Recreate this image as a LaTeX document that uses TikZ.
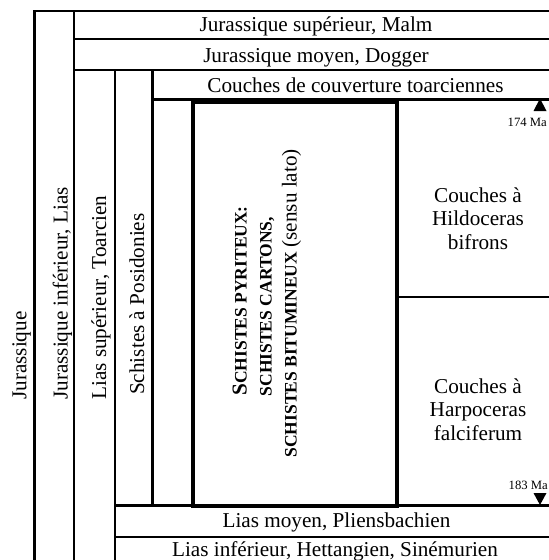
\documentclass[tikz,border=0pt]{standalone}
\usepackage{fontspec}
\setmainfont{Liberation Serif}
\begin{document}
\begin{tikzpicture}[x=1pt,y=-1pt,
  gridline/.style={line width=2.2pt,line cap=rect},
  boldbox/.style={line width=4pt},
  txt/.style={font=\fontsize{21.2}{23.5}\selectfont,inner sep=0pt},
  captxt/.style={font=\fontsize{17.5}{20}\selectfont\bfseries,inner sep=0pt},
  smalltxt/.style={font=\fontsize{12.7}{14}\selectfont,inner sep=0pt}]
\useasboundingbox (0,0) rectangle (549,560);
% grid
\draw[gridline] (34.5,565) -- (34.5,11.2) -- (555,11.2);
\draw[gridline] (74,565) -- (74,11.2);
\draw[gridline] (74,38.8) -- (555,38.8);
\draw[gridline] (74,70.2) -- (555,70.2);
\draw[gridline] (115.2,565) -- (115.2,70.2);
\draw[gridline] (152.5,505.5) -- (152.5,70.2);
\draw[gridline] (152.5,99.5) -- (555,99.5);
\draw[gridline] (115.2,505.5) -- (555,505.5);
\draw[gridline] (115.2,536.8) -- (555,536.8);
\draw[gridline] (397,297) -- (555,297);
\draw[boldbox] (193,102) rectangle (397,506);
% markers
\fill (540,98.5) -- (546.5,111) -- (533.5,111) -- cycle;
\fill (540,505) -- (546.5,493) -- (533.5,493) -- cycle;
% horizontal texts
\node[txt,anchor=base] (malm) at (316,31) {Jurassique supérieur, Malm};
\node[txt,anchor=base] (dogger) at (316,62) {Jurassique moyen, Dogger};
\node[txt,anchor=base] (couv) at (355.5,92) {Couches de couverture toarciennes};
\node[txt,anchor=base] (liasmoy) at (336.5,527) {Lias moyen, Pliensbachien};
\node[txt,anchor=base] (liasinf) at (335,556) {Lias inférieur, Hettangien, Sinémurien};
% vertical texts
\node[txt,rotate=90,anchor=base west] (jur) at (26.5,400) {Jurassique};
\node[txt,rotate=90,anchor=base west] (jurinf) at (67.5,400) {Jurassique inférieur, Lias};
\node[txt,rotate=90,anchor=base west] (liassup) at (106,400) {Lias supérieur, Toarcien};
\node[txt,rotate=90,anchor=base west] (posid) at (144,395) {Schistes à Posidonies};
% main box texts
\node[captxt,rotate=90,anchor=base] (s1) at (246.5,300.8) {{\fontsize{21.2}{23}\selectfont S}CHISTES PYRITEUX:};
\node[captxt,rotate=90,anchor=base] (s2) at (271.7,306.7) {SCHISTES CARTONS,};
\node[captxt,rotate=90,anchor=base] (s3) at (296.7,303.3) {SCHISTES BITUMINEUX {\mdseries\fontsize{21.2}{23}\selectfont (sensu lato)}};
% right column
\node[txt,align=center] (hildo) at (478,218.5) {Couches à\\Hildoceras\\bifrons};
\node[txt,align=center] (harpo) at (478,409.3) {Couches à\\Harpoceras\\falciferum};
\node[smalltxt,anchor=base east] (ma174) at (547,126) {174 Ma};
\node[smalltxt,anchor=base east] (ma183) at (548,489) {183 Ma};
\end{tikzpicture}
\end{document}
